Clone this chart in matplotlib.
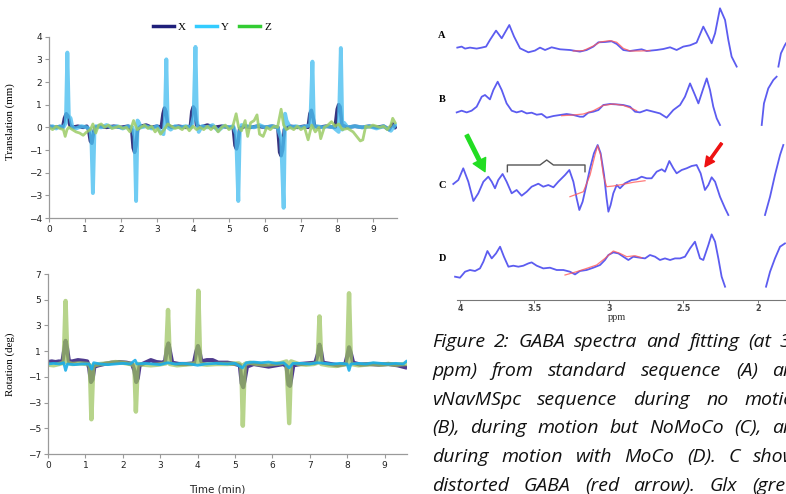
import numpy as np
import matplotlib.pyplot as plt

W, H = 786, 494

# ---- motion traces, (time in min, value) ----
trans_x = [(0.00, 0.05), (0.15, 0.0), (0.30, 0.03), (0.38, 0.0), (0.43, 0.4), (0.48, 0.6), (0.53, 0.5), (0.58, 0.1),
           (0.65, 0.0), (0.80, 0.05), (0.95, 0.0), (1.05, 0.05), (1.10, -0.1), (1.15, -0.6), (1.19, -0.7), (1.23, -0.3),
           (1.28, 0.0), (1.40, 0.05), (1.60, 0.0), (1.80, 0.05), (2.00, 0.0), (2.20, 0.05), (2.30, -0.1), (2.34, -0.9),
           (2.38, -1.1), (2.42, -0.8), (2.46, -0.1), (2.55, 0.05), (2.70, 0.1), (2.85, 0.0), (3.00, 0.05), (3.12, 0.0),
           (3.17, 0.6), (3.21, 0.85), (3.25, 0.7), (3.30, 0.1), (3.40, 0.0), (3.60, 0.05), (3.80, 0.0), (3.93, 0.05),
           (3.97, 0.7), (4.01, 0.9), (4.05, 0.8), (4.10, 0.1), (4.20, 0.0), (4.40, 0.1), (4.60, 0.0), (4.80, 0.05),
           (5.00, 0.0), (5.12, 0.0), (5.17, -0.8), (5.21, -0.95), (5.25, -0.7), (5.30, -0.05), (5.45, 0.05), (5.60, 0.0),
           (5.80, 0.05), (6.00, 0.0), (6.20, 0.05), (6.36, 0.0), (6.41, -1.1), (6.45, -1.25), (6.49, -1.0), (6.54, -0.1),
           (6.70, 0.05), (6.90, 0.0), (7.10, 0.05), (7.20, 0.0), (7.25, 0.6), (7.29, 0.75), (7.33, 0.5), (7.38, 0.05),
           (7.50, 0.0), (7.70, 0.05), (7.95, 0.0), (8.01, 0.8), (8.05, 1.0), (8.09, 0.9), (8.14, 0.1), (8.30, 0.0),
           (8.50, 0.05), (8.70, 0.0), (8.90, 0.05), (9.10, 0.0), (9.30, 0.05), (9.45, -0.1), (9.55, 0.15), (9.62, 0.0)]
trans_y = [(0.00, 0.0), (0.10, 0.05), (0.20, -0.05), (0.30, 0.05), (0.40, 0.0), (0.47, 0.2), (0.51, 3.3), (0.55, 0.5),
           (0.60, 0.4), (0.65, 0.0), (0.75, -0.05), (0.90, 0.05), (1.05, 0.0), (1.15, -0.1), (1.18, -0.6), (1.22, -2.9),
           (1.26, -0.3), (1.30, 0.05), (1.45, 0.0), (1.60, 0.1), (1.75, 0.0), (1.90, 0.05), (2.05, -0.05), (2.20, 0.05),
           (2.32, 0.0), (2.38, -0.4), (2.42, -3.25), (2.46, 0.3), (2.50, 0.2), (2.55, 0.0), (2.70, 0.05), (2.85, -0.05),
           (3.00, 0.05), (3.10, -0.2), (3.18, -0.3), (3.22, 0.3), (3.26, 3.0), (3.30, 0.0), (3.38, -0.1), (3.50, 0.05),
           (3.65, 0.0), (3.80, 0.05), (3.95, 0.0), (4.02, 0.5), (4.07, 3.55), (4.11, 0.3), (4.16, -0.2), (4.25, 0.05),
           (4.40, 0.0), (4.55, 0.1), (4.70, -0.15), (4.85, 0.05), (5.00, 0.0), (5.12, 0.05), (5.20, -0.3), (5.26, -3.25),
           (5.30, -0.2), (5.35, 0.1), (5.50, 0.05), (5.70, 0.0), (5.85, 0.1), (6.00, 0.0), (6.20, 0.05), (6.35, 0.0),
           (6.45, -0.5), (6.52, -3.55), (6.56, 0.6), (6.60, 0.3), (6.70, 0.0), (6.85, 0.05), (7.00, 0.0), (7.15, 0.05),
           (7.26, 0.1), (7.32, 2.9), (7.36, 0.0), (7.45, 0.05), (7.60, 0.0), (7.75, 0.05), (7.90, 0.0), (8.05, -0.2),
           (8.11, 3.5), (8.15, -0.1), (8.20, 0.2), (8.30, 0.0), (8.50, 0.05), (8.70, 0.0), (8.90, 0.05), (9.10, -0.05),
           (9.30, 0.05), (9.50, -0.15), (9.62, 0.1)]
trans_z = [(0.00, 0.0), (0.10, -0.1), (0.20, 0.05), (0.30, -0.05), (0.40, -0.1), (0.45, -0.4), (0.50, -0.1), (0.55, 0.0),
           (0.65, -0.1), (0.75, -0.2), (0.85, -0.25), (0.95, -0.35), (1.05, -0.2), (1.15, -0.1), (1.22, 0.15), (1.30, -0.25),
           (1.38, 0.1), (1.45, 0.15), (1.55, 0.0), (1.65, 0.1), (1.75, -0.05), (1.85, 0.0), (1.95, 0.05), (2.05, -0.05),
           (2.15, 0.0), (2.25, -0.2), (2.35, 0.3), (2.45, -0.1), (2.55, 0.0), (2.65, 0.1), (2.75, -0.05), (2.85, 0.05),
           (2.95, -0.2), (3.02, -0.05), (3.10, -0.3), (3.20, -0.1), (3.30, 0.15), (3.40, 0.05), (3.50, -0.05), (3.60, 0.0),
           (3.70, -0.1), (3.80, 0.05), (3.90, -0.15), (4.00, 0.05), (4.10, -0.1), (4.20, 0.0), (4.30, -0.1), (4.40, 0.05),
           (4.50, -0.1), (4.60, 0.05), (4.70, -0.2), (4.80, 0.0), (4.90, 0.1), (5.00, -0.1), (5.10, 0.0), (5.20, 0.6),
           (5.27, 0.0), (5.35, -0.15), (5.45, 0.3), (5.52, -0.4), (5.60, 0.2), (5.70, 0.3), (5.78, 0.55), (5.85, -0.3),
           (5.95, -0.4), (6.05, 0.0), (6.15, -0.1), (6.25, 0.05), (6.35, 0.0), (6.45, 0.8), (6.52, 0.1), (6.60, -0.1),
           (6.70, 0.0), (6.80, -0.1), (6.90, 0.05), (7.00, -0.1), (7.10, 0.0), (7.20, -0.55), (7.30, 0.1), (7.40, -0.2),
           (7.50, 0.0), (7.55, -0.5), (7.65, 0.0), (7.75, 0.1), (7.85, 0.25), (7.95, 0.05), (8.05, 0.15), (8.15, -0.1),
           (8.30, -0.05), (8.45, -0.2), (8.55, -0.4), (8.65, -0.6), (8.72, -0.55), (8.80, 0.05), (8.90, 0.0), (9.00, 0.1),
           (9.10, 0.05), (9.20, 0.0), (9.30, 0.05), (9.40, -0.1), (9.50, 0.1), (9.55, 0.4), (9.62, 0.2)]

rot_x = [(0.00, 0.15), (0.10, 0.2), (0.20, 0.15), (0.30, 0.2), (0.38, 0.1), (0.43, 1.0), (0.47, 1.8), (0.51, 1.2),
         (0.56, 0.2), (0.65, 0.2), (0.80, 0.3), (0.95, 0.25), (1.05, 0.2), (1.10, -0.3), (1.15, -1.4), (1.19, -1.2),
         (1.24, -0.2), (1.35, -0.1), (1.50, 0.0), (1.70, 0.1), (1.90, 0.15), (2.10, 0.1), (2.25, 0.0), (2.31, -0.5),
         (2.36, -1.4), (2.40, -1.1), (2.45, -0.1), (2.60, 0.1), (2.75, 0.3), (2.90, 0.15), (3.05, 0.1), (3.13, 0.2),
         (3.18, 1.2), (3.22, 1.6), (3.26, 1.0), (3.32, 0.1), (3.50, 0.0), (3.70, 0.0), (3.90, 0.05), (3.96, 0.9),
         (4.01, 1.4), (4.05, 1.0), (4.10, 0.2), (4.25, 0.3), (4.40, 0.3), (4.55, 0.1), (4.80, 0.1), (5.00, 0.0),
         (5.13, -0.1), (5.18, -1.5), (5.22, -1.8), (5.26, -1.2), (5.32, -0.2), (5.50, 0.0), (5.70, -0.1), (5.90, -0.2),
         (6.10, -0.1), (6.30, 0.0), (6.38, -0.2), (6.43, -1.6), (6.47, -1.7), (6.51, -1.0), (6.56, -0.1), (6.75, 0.0),
         (6.95, 0.05), (7.15, 0.1), (7.22, 0.8), (7.26, 1.5), (7.30, 1.0), (7.35, 0.1), (7.55, 0.0), (7.75, -0.1),
         (7.95, 0.0), (8.01, 0.7), (8.05, 1.3), (8.10, 0.8), (8.16, 0.1), (8.35, -0.05), (8.60, 0.0), (8.85, -0.05),
         (9.10, 0.0), (9.35, -0.1), (9.55, -0.25)]
rot_y = [(0.00, 0.0), (0.15, 0.05), (0.30, 0.0), (0.42, 0.1), (0.47, -0.5), (0.52, 0.0), (0.70, -0.05), (0.90, 0.0),
         (1.10, 0.0), (1.17, -0.4), (1.22, 0.1), (1.40, 0.0), (1.60, -0.05), (1.80, 0.0), (2.00, 0.05), (2.20, 0.0),
         (2.33, 0.3), (2.38, 0.0), (2.60, 0.05), (2.80, 0.0), (3.00, -0.05), (3.20, 0.1), (3.40, 0.0), (3.60, 0.05),
         (3.80, 0.0), (4.00, -0.1), (4.20, 0.0), (4.50, 0.05), (4.80, 0.0), (5.00, 0.05), (5.20, -0.3), (5.30, 0.1),
         (5.50, 0.15), (5.70, 0.1), (5.90, 0.15), (6.10, 0.05), (6.30, 0.1), (6.45, -0.3), (6.55, 0.05), (6.80, 0.05),
         (7.00, 0.0), (7.20, 0.1), (7.40, 0.05), (7.60, 0.0), (7.80, 0.05), (8.00, 0.0), (8.05, -0.5), (8.10, 0.0),
         (8.30, 0.05), (8.50, 0.0), (8.70, 0.1), (8.90, 0.05), (9.10, 0.0), (9.30, 0.05), (9.50, 0.0), (9.58, 0.2)]
rot_z = [(0.00, -0.05), (0.15, -0.1), (0.30, 0.0), (0.42, 0.1), (0.47, 4.9), (0.52, 0.1), (0.65, 0.0), (0.85, 0.05),
         (1.05, 0.0), (1.12, -0.1), (1.16, -4.3), (1.21, -0.1), (1.40, 0.0), (1.60, 0.05), (1.80, 0.15), (2.00, 0.1),
         (2.20, 0.0), (2.31, -0.1), (2.35, -3.7), (2.40, 0.0), (2.55, -0.05), (2.75, -0.1), (2.95, -0.05), (3.15, 0.05),
         (3.21, 4.2), (3.26, 0.0), (3.45, -0.1), (3.65, -0.05), (3.85, 0.0), (3.97, 0.1), (4.02, 5.7), (4.07, 0.0),
         (4.25, -0.05), (4.50, 0.0), (4.80, 0.0), (5.10, 0.05), (5.17, -0.1), (5.21, -4.8), (5.26, 0.0), (5.40, 0.1),
         (5.60, 0.0), (5.80, -0.05), (6.00, 0.0), (6.20, 0.05), (6.38, 0.2), (6.45, -4.6), (6.50, 0.2), (6.70, 0.0),
         (6.90, -0.05), (7.10, 0.0), (7.21, 0.1), (7.26, 3.7), (7.31, 0.0), (7.50, -0.1), (7.70, -0.15), (7.90, -0.05),
         (8.00, 0.0), (8.05, 5.5), (8.10, 0.0), (8.30, -0.1), (8.50, -0.05), (8.70, 0.0), (8.90, -0.05), (9.10, 0.0),
         (9.30, -0.05), (9.55, 0.0)]

# ---- spectra, (ppm, intensity) ; each has a left and right part around the clipped NAA peak ----
spec_a = [(4.018, 1.7), (3.989, 2.7), (3.966, 0.7), (3.933, 1.7), (3.888, 0.7), (3.854, 1.7), (3.825, 2.7), (3.799, 9.3),
          (3.758, 18.7), (3.720, 11.0), (3.669, 24.3), (3.637, 12.7), (3.597, 1.0), (3.541, -3.0), (3.497, -1.3),
          (3.463, 1.7), (3.429, -0.7), (3.385, 2.0), (3.329, 0.0), (3.262, -0.7), (3.195, -2.3), (3.150, -0.7),
          (3.105, 2.7), (3.071, 7.0), (3.027, 7.3), (2.982, 8.0), (2.948, 5.3), (2.904, -0.7), (2.859, -1.7),
          (2.814, -0.7), (2.781, 0.0), (2.747, -1.7), (2.680, -0.7), (2.635, 0.3), (2.590, 2.0), (2.546, -0.7),
          (2.501, 2.7), (2.456, 4.0), (2.412, 6.7), (2.367, 22.7), (2.333, 12.7), (2.311, 6.0), (2.288, 16.0),
          (2.255, 41.0), (2.221, 29.3), (2.199, 9.3), (2.177, -7.3), (2.143, -17.3)]
spec_a_r = [(1.863, -17.3), (1.846, -4.0), (1.819, 4.3), (1.812, 6.0)]
fit_a = [(3.240, -1.7), (3.172, -1.3), (3.105, 3.3), (3.060, 7.3), (2.993, 8.7), (2.948, 7.0), (2.904, 1.0),
         (2.859, -1.7), (2.792, -1.7), (2.725, -1.3)]

spec_b = [(4.022, -0.7), (3.989, 1.0), (3.955, -0.7), (3.922, 1.0), (3.888, 5.0), (3.854, 15.0), (3.832, 16.7),
          (3.799, 12.3), (3.776, 21.7), (3.747, 30.0), (3.720, 21.7), (3.687, 8.3), (3.653, 1.0), (3.620, -0.7),
          (3.586, 0.7), (3.552, -1.7), (3.519, -1.0), (3.485, -3.0), (3.452, -2.3), (3.418, -6.0), (3.373, -4.3),
          (3.329, -3.3), (3.284, -2.3), (3.239, -3.3), (3.195, -5.0), (3.172, -5.0), (3.139, -1.0), (3.105, 0.0),
          (3.071, 1.7), (3.038, 6.7), (2.993, 7.7), (2.948, 7.3), (2.904, 6.7), (2.859, 5.0), (2.825, 0.0),
          (2.792, -0.7), (2.747, 1.7), (2.702, 0.0), (2.658, -1.7), (2.613, -6.0), (2.568, 1.7), (2.523, 6.7),
          (2.490, 15.0), (2.456, 28.3), (2.423, 16.7), (2.400, 8.3), (2.367, 23.3), (2.344, 33.3), (2.322, 21.7),
          (2.300, 5.0), (2.277, -6.7), (2.255, -13.3)]
spec_b_r = [(1.975, -13.3), (1.960, 8.3), (1.931, 23.3), (1.897, 31.7), (1.875, 35.0)]
fit_b = [(3.318, -4.0), (3.239, -3.3), (3.172, -2.3), (3.105, 1.0), (3.038, 6.3), (2.971, 7.7), (2.904, 6.3),
         (2.848, 3.3), (2.814, 1.0)]

spec_c = [(4.045, 1.0), (4.011, 5.0), (3.978, 16.7), (3.944, 3.3), (3.910, -16.0), (3.877, -8.3), (3.843, 3.3),
          (3.810, 8.3), (3.787, 3.3), (3.765, -3.3), (3.743, 5.0), (3.714, 11.0), (3.687, 3.3), (3.653, -8.3),
          (3.620, -5.0), (3.586, -10.7), (3.552, -6.7), (3.519, -1.7), (3.474, 1.3), (3.441, -1.7), (3.407, 0.0),
          (3.373, -2.3), (3.340, 3.3), (3.295, 10.0), (3.266, 15.0), (3.239, 3.3), (3.217, -13.3), (3.199, -25.0),
          (3.177, -16.7), (3.154, -1.7), (3.127, 16.7), (3.101, 31.7), (3.076, 40.0), (3.056, 31.7), (3.033, 10.0),
          (3.016, -13.3), (3.004, -26.7), (2.989, -20.0), (2.971, -8.3), (2.948, 0.0), (2.926, -3.3), (2.893, 1.7),
          (2.848, 5.0), (2.814, 5.7), (2.781, 8.3), (2.747, 6.7), (2.714, 6.7), (2.680, 13.3), (2.646, 15.7),
          (2.624, 13.3), (2.595, 24.0), (2.568, 16.7), (2.546, 11.7), (2.512, 15.0), (2.479, 16.7), (2.445, 19.0),
          (2.412, 20.0), (2.385, 11.7), (2.356, -5.0), (2.333, 0.0), (2.311, 7.7), (2.288, 3.3), (2.255, -11.7),
          (2.221, -23.3), (2.199, -30.0)]
spec_c_r = [(1.953, -30.0), (1.919, -11.7), (1.886, 10.0), (1.852, 30.0), (1.830, 40.0)]
fit_c = [(3.262, -11.7), (3.172, -6.7), (3.127, 10.0), (3.094, 30.0), (3.076, 39.3), (3.056, 30.0), (3.038, 10.0),
         (3.016, -1.7), (2.971, -1.0), (2.904, 0.7), (2.837, 2.7), (2.758, 4.3)]

spec_d = [(4.033, -15.0), (4.000, -16.0), (3.966, -10.0), (3.933, -8.3), (3.899, -9.3), (3.866, -6.7), (3.843, 0.0),
          (3.816, 10.7), (3.787, 3.3), (3.758, 8.3), (3.731, 15.0), (3.705, 5.0), (3.675, -5.0), (3.642, -4.0),
          (3.608, -5.0), (3.575, -4.0), (3.541, -1.7), (3.519, -0.7), (3.485, -4.0), (3.441, -6.7), (3.396, -6.0),
          (3.351, -8.3), (3.306, -8.3), (3.262, -10.0), (3.228, -12.7), (3.195, -9.3), (3.150, -8.3), (3.105, -6.0),
          (3.060, -3.3), (3.027, 1.7), (3.004, 6.7), (2.971, 9.3), (2.937, 8.3), (2.904, 5.0), (2.870, 1.7),
          (2.837, 5.0), (2.792, 4.0), (2.758, 3.3), (2.725, 6.7), (2.691, 5.0), (2.658, 1.7), (2.624, 3.3),
          (2.590, 1.7), (2.557, 3.3), (2.523, 3.3), (2.490, 5.0), (2.456, 13.3), (2.423, 20.0), (2.389, 3.3),
          (2.367, 1.7), (2.333, 16.7), (2.311, 27.3), (2.288, 20.0), (2.266, 3.3), (2.244, -15.0), (2.221, -25.0)]
spec_d_r = [(1.946, -25.0), (1.919, -10.0), (1.886, 3.3), (1.852, 15.0), (1.819, 18.3)]
fit_d = [(3.295, -13.3), (3.217, -10.0), (3.150, -6.7), (3.083, -3.3), (3.027, 3.3), (2.971, 10.7), (2.926, 8.3),
         (2.881, 5.0), (2.825, 6.0), (2.781, 4.0)]

spec_labels = ['A', 'B', 'C', 'D']
ppm_ticks = [4, 3.5, 3, 2.5, 2]
ppm_ticklabels = ['4', '3.5', '3', '2.5', '2']

caption = ["Figure 2: GABA spectra and fitting (at 3.0",
           "ppm) from standard sequence (A) and",
           "vNavMSpc sequence during no motion",
           "(B), during motion but NoMoCo (C), and",
           "during motion with MoCo (D). C shows",
           "distorted GABA (red arrow). Glx (green"]


def box(x0, y0, x1, y1):
    return [x0 / W, 1 - y1 / H, (x1 - x0) / W, (y1 - y0) / H]


def xy(pairs):
    a = np.array(pairs, dtype=float)
    return a[:, 0], a[:, 1]


fig = plt.figure(figsize=(W / 100, H / 100), dpi=100)
fig.patch.set_facecolor('white')
serif = ['Liberation Serif', 'DejaVu Serif']
axis_gray = '#9a9a9a'


def style_motion_ax(ax):
    for s in ['top', 'right']:
        ax.spines[s].set_visible(False)
    for s in ['left', 'bottom']:
        ax.spines[s].set_color(axis_gray)
        ax.spines[s].set_linewidth(0.9)
    ax.tick_params(length=3, width=0.8, color=axis_gray, labelsize=6.5, labelcolor='#222222', pad=2)


# top: translation
ax1 = fig.add_axes(box(49, 36.7, 397, 218))
ax1.plot(*xy(trans_x), color='#2d2a78', lw=2.6, alpha=0.95, solid_joinstyle='round')
ax1.plot(*xy(trans_y), color='#4cc0f0', lw=2.8, alpha=0.8, solid_joinstyle='round')
ax1.plot(*xy(trans_z), color='#9ccc66', lw=2.0, alpha=0.85, solid_joinstyle='round')
ax1.set_xlim(0, 9.67)
ax1.set_ylim(-4, 4)
ax1.set_xticks(range(10))
ax1.set_yticks(range(-4, 5))
style_motion_ax(ax1)
ax1.set_ylabel('Translation (mm)', family=serif, fontsize=7.8)
ax1.yaxis.set_label_coords(-0.098, 0.53)

leg_handles = [plt.Line2D([], [], color='#1f1f7a', lw=2.5),
               plt.Line2D([], [], color='#33ccff', lw=2.5),
               plt.Line2D([], [], color='#33cc33', lw=2.5)]
fig.legend(leg_handles, ['X', 'Y', 'Z'], loc='center', bbox_to_anchor=(212 / W, 1 - 27 / H), ncol=3,
           frameon=False, handlelength=1.9, columnspacing=0.9, handletextpad=0.35,
           prop={'family': serif, 'size': 8})

# bottom: rotation
ax2 = fig.add_axes(box(48, 274, 407, 454))
ax2.plot(*xy(rot_x), color='#4e3a8e', lw=3.0, solid_joinstyle='round')
ax2.plot(*xy(rot_z), color='#9cc45e', lw=3.2, alpha=0.72, solid_joinstyle='round')
ax2.plot(*xy(rot_y), color='#1aaee8', lw=2.0, alpha=0.9, solid_joinstyle='round')
ax2.set_xlim(0, 9.6)
ax2.set_ylim(-7, 7)
ax2.set_xticks(range(10))
ax2.set_yticks(range(-7, 8, 2))
style_motion_ax(ax2)
ax2.set_ylabel('Rotation (deg)', family=serif, fontsize=7.8)
ax2.yaxis.set_label_coords(-0.092, 0.5)
fig.text(217.5 / W, 1 - 489 / H, 'Time (min)', ha='center', va='center', fontsize=7.5, color='#222222')

# right: spectra (y in pixel-like units, rows stacked)
axs = fig.add_axes(box(450, 0, 786, 299.5))
axs.set_xlim(4.067, 1.812)
axs.set_ylim(-299.5, 0)
rows = [(spec_a, spec_a_r, fit_a, 49.3, 35),
        (spec_b, spec_b_r, fit_b, 111.7, 99),
        (spec_c, spec_c_r, fit_c, 185.0, 185),
        (spec_d, spec_d_r, fit_d, 261.7, 258)]
blue = '#5c5cf0'
for (sp, sp_r, fit, base, lab_y), lab in zip(rows, spec_labels):
    for seg in (sp, sp_r):
        px, py = xy(seg)
        axs.plot(px, py - base, color=blue, lw=1.3, solid_joinstyle='round')
    fx, fy = xy(fit)
    axs.plot(fx, fy - base, color='#ff5a5a', lw=0.9, alpha=0.8)
    axs.text(4.12, -lab_y, lab, ha='center', va='center', fontsize=7.5, fontweight='bold',
             family=serif, clip_on=False)

# bracket over the Glx region and arrows on spectrum C
c_base = 185.0
br_x = [3.682, 3.682, 3.463, 3.418, 3.373, 3.161, 3.161]
br_y = [13.3, 20.0, 20.0, 25.0, 20.0, 20.0, 13.3]
axs.plot(br_x, np.array(br_y) - c_base, color='#555555', lw=1.0)
axs.annotate('', xy=(3.832, 13.3 - c_base), xytext=(3.955, 50 - c_base),
             arrowprops=dict(facecolor='#22dd22', edgecolor='#22dd22', width=2.6, headwidth=10, headlength=9))
axs.annotate('', xy=(2.356, 18.3 - c_base), xytext=(2.244, 41.7 - c_base),
             arrowprops=dict(facecolor='#ee1111', edgecolor='#ee1111', width=1.6, headwidth=7, headlength=7))

for s in ['top', 'right', 'left']:
    axs.spines[s].set_visible(False)
axs.spines['bottom'].set_bounds(4.02, 1.812)
axs.spines['bottom'].set_color('#777777')
axs.spines['bottom'].set_linewidth(0.8)
axs.set_yticks([])
axs.set_xticks(ppm_ticks)
axs.set_xticklabels(ppm_ticklabels)
axs.tick_params(axis='x', length=2, width=0.7, color='#777777', labelsize=5.8, labelcolor='#444444', pad=1)
for t in axs.get_xticklabels():
    t.set_fontweight('bold')
fig.text(617 / W, 1 - 317 / H, 'ppm', ha='center', va='center', family=serif, fontsize=7.5, color='#333333')

# caption, justified and running off the right edge
fig.canvas.draw()
r = fig.canvas.get_renderer()
x0, x1 = 432, 806
for i, line in enumerate(caption):
    yb = 347 + 28.8 * i
    words = line.split()
    texts = [fig.text(0, 0, w, fontsize=14, style='italic', family=['Open Sans', 'Lato', 'DejaVu Sans'],
                      color='#111111', va='baseline') for w in words]
    widths = [t.get_window_extent(r).width for t in texts]
    gap = (x1 - x0 - sum(widths)) / (len(words) - 1)
    x = x0
    for t, w in zip(texts, widths):
        t.set_position((x / W, 1 - yb / H))
        x += w + gap

fig.savefig('out.png', dpi=100, facecolor='white')
